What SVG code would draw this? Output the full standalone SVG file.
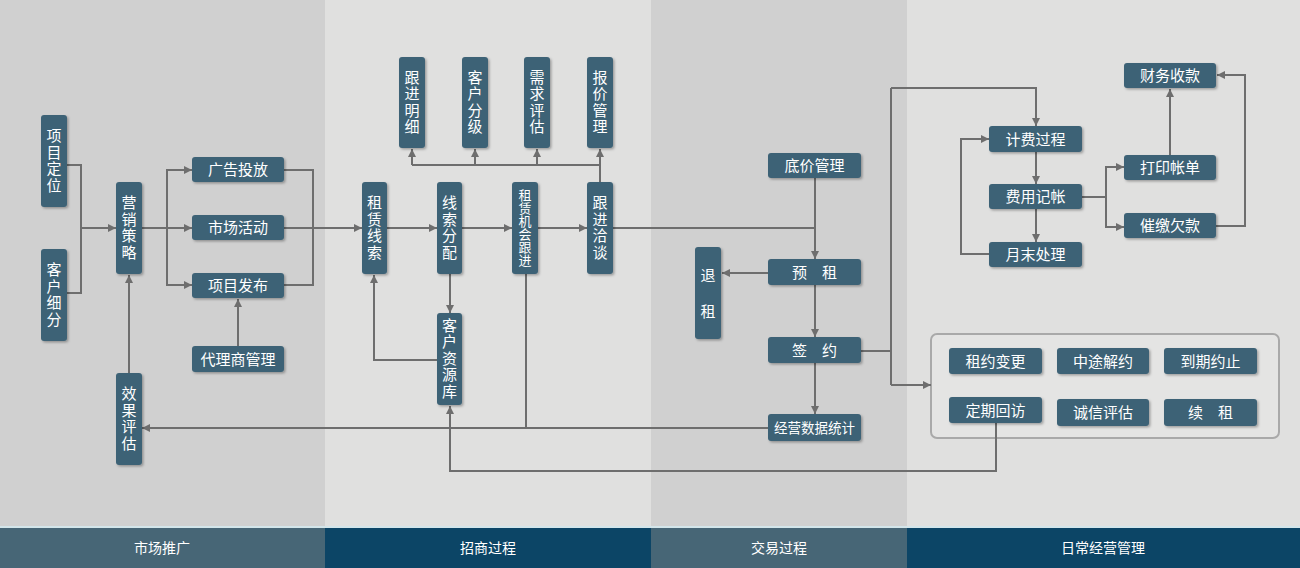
<svg xmlns="http://www.w3.org/2000/svg" width="1300" height="568" viewBox="0 0 1300 568">
<defs>
<marker id="ah" markerUnits="userSpaceOnUse" markerWidth="9" markerHeight="9" refX="8" refY="4.5" orient="auto"><path d="M0,0.5 L8,4.5 L0,8.5 z" fill="#6e6e6e"/></marker>
<filter id="sh" x="-20%" y="-20%" width="140%" height="140%"><feDropShadow dx="1.5" dy="1.5" stdDeviation="1" flood-color="#000" flood-opacity="0.3"/></filter>
<style>
.b{fill:#3e6276;filter:url(#sh)}
.t{fill:#fff;font-family:"Noto Sans CJK SC","Noto Sans",sans-serif;font-size:15px;text-anchor:middle}
.s{font-size:13.5px}
.v{writing-mode:vertical-rl;letter-spacing:1.5px}
.x{font-size:13px;letter-spacing:0}
.r{letter-spacing:21px}
.c{fill:none;stroke:#6e6e6e;stroke-width:2}
.a{marker-end:url(#ah)}
.f{fill:#fff;font-family:"Noto Sans CJK SC",sans-serif;font-size:14px;text-anchor:middle}
</style>
</defs>
<rect x="0" y="0" width="325" height="528" fill="#d0d0d0"/>
<rect x="325" y="0" width="326" height="528" fill="#e0e0df"/>
<rect x="651" y="0" width="256" height="528" fill="#d0d0d0"/>
<rect x="907" y="0" width="393" height="528" fill="#e0e0df"/>
<rect x="0" y="526" width="1300" height="2" fill="#d3e5ea"/>
<g id="bar">
<rect x="0" y="528" width="325" height="40" fill="#476676"/>
<rect x="325" y="528" width="326" height="40" fill="#0c4566"/>
<rect x="651" y="528" width="256" height="40" fill="#476676"/>
<rect x="907" y="528" width="393" height="40" fill="#0c4566"/>
<text class="f" x="162" y="553">市场推广</text>
<text class="f" x="488" y="553">招商过程</text>
<text class="f" x="779" y="553">交易过程</text>
<text class="f" x="1103" y="553">日常经营管理</text>
</g>
<rect id="grp" x="931" y="334" width="348" height="104" rx="6" fill="#e4e4e3" stroke="#a9a9a9" stroke-width="2"/>
<g id="connectors">
<path class="c" d="M67,165 H81 V293 H67"/>
<path class="c a" d="M81,228 H116"/>
<path class="c a" d="M142,228 H192"/>
<path class="c a" d="M167,228 V170 H192"/>
<path class="c a" d="M167,228 V285 H192"/>
<path class="c" d="M284,170 H313 V285 H284"/>
<path class="c a" d="M284,228 H362"/>
<path class="c a" d="M238,346 V299"/>
<path class="c a" d="M129,373 V275"/>
<path class="c a" d="M768,428 H142"/>
<path class="c" d="M526,274 V428"/>
<path class="c a" d="M387,228 H437"/>
<path class="c a" d="M462,228 H512"/>
<path class="c a" d="M538,228 H587"/>
<path class="c" d="M613,228 H815"/>
<path class="c a" d="M815,178 V259"/>
<path class="c a" d="M600,182 V149"/>
<path class="c" d="M412,165 H600"/>
<path class="c a" d="M412,165 V149"/>
<path class="c a" d="M475,165 V149"/>
<path class="c a" d="M537,165 V149"/>
<path class="c a" d="M450,274 V313"/>
<path class="c a" d="M437,360 H374 V275"/>
<path class="c a" d="M996,423 V471 H450 V406"/>
<path class="c a" d="M768,273 H722"/>
<path class="c a" d="M815,285 V337"/>
<path class="c a" d="M815,363 V414"/>
<path class="c" d="M861,351 H891"/>
<path class="c" d="M891,88 V385"/>
<path class="c a" d="M891,88 H1036 V126"/>
<path class="c a" d="M891,385 H931"/>
<path class="c a" d="M1036,152 V184"/>
<path class="c a" d="M1036,209 V242"/>
<path class="c a" d="M989,254 H961 V139 H989"/>
<path class="c" d="M1082,197 H1106"/>
<path class="c a" d="M1106,197 V167 H1124"/>
<path class="c a" d="M1106,197 V227 H1124"/>
<path class="c a" d="M1170,155 V89"/>
<path class="c a" d="M1216,226 H1245 V75 H1217"/>
</g>
<g id="n1"><rect class="b" x="41" y="115" width="26" height="92" rx="3"/><text class="t v" x="54" y="161">项目定位</text></g>
<g id="n2"><rect class="b" x="41" y="249" width="26" height="92" rx="3"/><text class="t v" x="54" y="295">客户细分</text></g>
<g id="n3"><rect class="b" x="116" y="182" width="26" height="92" rx="3"/><text class="t v" x="129" y="228">营销策略</text></g>
<g id="n4"><rect class="b" x="116" y="373" width="26" height="92" rx="3"/><text class="t v" x="129" y="419">效果评估</text></g>
<g id="n5"><rect class="b" x="192" y="157" width="92" height="25" rx="3"/><text class="t" x="238" y="175">广告投放</text></g>
<g id="n6"><rect class="b" x="192" y="215" width="92" height="25" rx="3"/><text class="t" x="238" y="233">市场活动</text></g>
<g id="n7"><rect class="b" x="192" y="273" width="92" height="25" rx="3"/><text class="t" x="238" y="291">项目发布</text></g>
<g id="n8"><rect class="b" x="192" y="346" width="92" height="26" rx="3"/><text class="t" x="238" y="364.5">代理商管理</text></g>
<g id="n9"><rect class="b" x="399" y="57" width="26" height="91" rx="3"/><text class="t v" x="412" y="102.5">跟进明细</text></g>
<g id="n10"><rect class="b" x="462" y="57" width="26" height="91" rx="3"/><text class="t v" x="475" y="102.5">客户分级</text></g>
<g id="n11"><rect class="b" x="524" y="57" width="26" height="91" rx="3"/><text class="t v" x="537" y="102.5">需求评估</text></g>
<g id="n12"><rect class="b" x="587" y="57" width="26" height="91" rx="3"/><text class="t v" x="600" y="102.5">报价管理</text></g>
<g id="n13"><rect class="b" x="362" y="182" width="25" height="92" rx="3"/><text class="t v" x="374.5" y="228">租赁线索</text></g>
<g id="n14"><rect class="b" x="437" y="182" width="25" height="92" rx="3"/><text class="t v" x="449.5" y="228">线索分配</text></g>
<g id="n15"><rect class="b" x="512" y="182" width="26" height="92" rx="3"/><text class="t v x" x="525" y="228">租赁机会跟进</text></g>
<g id="n16"><rect class="b" x="587" y="182" width="26" height="92" rx="3"/><text class="t v" x="600" y="228">跟进洽谈</text></g>
<g id="n17"><rect class="b" x="437" y="313" width="25" height="92" rx="3"/><text class="t v" x="449.5" y="359">客户资源库</text></g>
<g id="n18"><rect class="b" x="768" y="153" width="93" height="25" rx="3"/><text class="t" x="814.5" y="171">底价管理</text></g>
<g id="n19"><rect class="b" x="768" y="259" width="93" height="26" rx="3"/><text class="t" x="814.5" y="277.5">预　租</text></g>
<g id="n20"><rect class="b" x="768" y="337" width="93" height="26" rx="3"/><text class="t" x="814.5" y="355.5">签　约</text></g>
<g id="n21"><rect class="b" x="768" y="414" width="93" height="27" rx="3"/><text class="t s" x="814.5" y="432.5">经营数据统计</text></g>
<g id="n22"><rect class="b" x="695" y="247" width="26" height="92" rx="3"/><text class="t v r" x="708" y="304">退租</text></g>
<g id="n23"><rect class="b" x="1124" y="63" width="92" height="25" rx="3"/><text class="t" x="1170" y="81">财务收款</text></g>
<g id="n24"><rect class="b" x="989" y="126" width="93" height="26" rx="3"/><text class="t" x="1035.5" y="144.5">计费过程</text></g>
<g id="n25"><rect class="b" x="989" y="184" width="93" height="25" rx="3"/><text class="t" x="1035.5" y="202">费用记帐</text></g>
<g id="n26"><rect class="b" x="989" y="242" width="93" height="25" rx="3"/><text class="t" x="1035.5" y="260">月末处理</text></g>
<g id="n27"><rect class="b" x="1124" y="155" width="92" height="25" rx="3"/><text class="t" x="1170" y="173">打印帐单</text></g>
<g id="n28"><rect class="b" x="1124" y="213" width="92" height="25" rx="3"/><text class="t" x="1170" y="231">催缴欠款</text></g>
<g id="n29"><rect class="b" x="949" y="348" width="93" height="26" rx="3"/><text class="t" x="995.5" y="366.5">租约变更</text></g>
<g id="n30"><rect class="b" x="1057" y="348" width="92" height="26" rx="3"/><text class="t" x="1103" y="366.5">中途解约</text></g>
<g id="n31"><rect class="b" x="1164" y="348" width="93" height="26" rx="3"/><text class="t" x="1210.5" y="366.5">到期约止</text></g>
<g id="n32"><rect class="b" x="949" y="397" width="93" height="26" rx="3"/><text class="t" x="995.5" y="415.5">定期回访</text></g>
<g id="n33"><rect class="b" x="1057" y="399" width="92" height="27" rx="3"/><text class="t" x="1103" y="418">诚信评估</text></g>
<g id="n34"><rect class="b" x="1164" y="399" width="93" height="27" rx="3"/><text class="t" x="1210.5" y="418">续　租</text></g>
</svg>
